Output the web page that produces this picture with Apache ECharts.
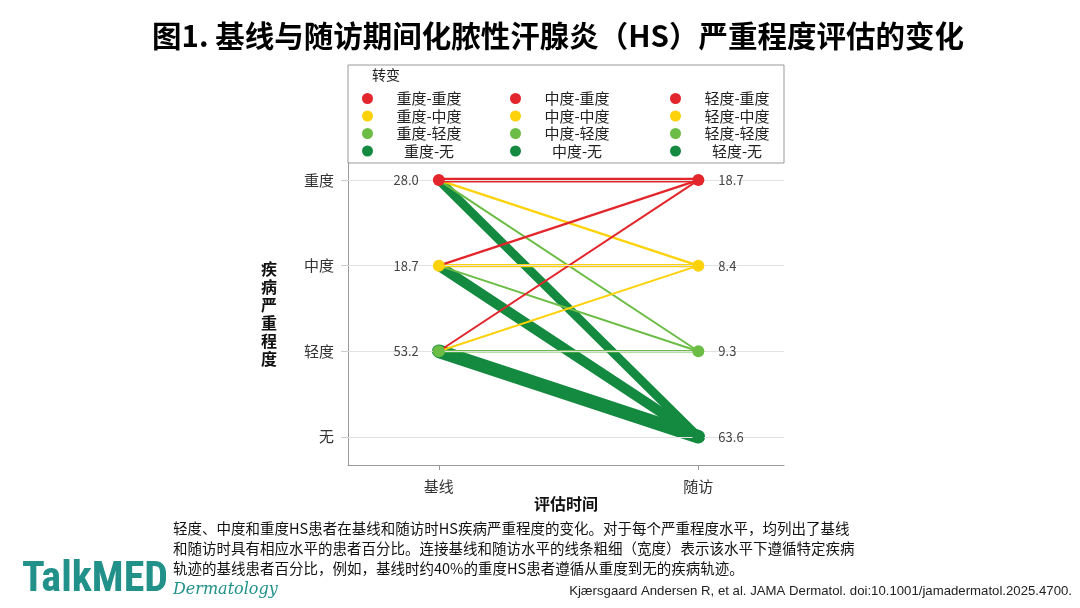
<!DOCTYPE html>
<html>
<head>
<meta charset="utf-8">
<script src="https://cdn.jsdelivr.net/npm/echarts@6/dist/echarts.min.js"></script>
<style>
  html, body { margin: 0; padding: 0; background: #fff; }
  #chart { width: 1080px; height: 608px; }
</style>
</head>
<body>
<div id="chart"></div>
<script>
// 严重程度等级 (y 值 0..3)
const levels = ['无', '轻度', '中度', '重度'];
const timePoints = ['基线', '随访'];

// 各水平患者百分比
const baselinePct = [null, 53.2, 18.7, 28.0];   // 无, 轻度, 中度, 重度
const followPct = [63.6, 9.3, 8.4, 18.7];

// 转变：从某水平到 重度 / 中度 / 轻度 / 无 的基线患者百分比（估计）
const toLevels = ['重度', '中度', '轻度', '无'];
const fromSevere = [22, 10, 8, 40];
const fromModerate = [10, 14, 8, 46];
const fromMild = [7, 8, 12, 62];

const toColors = { '重度': '#e3262b', '中度': '#fdd20a', '轻度': '#6cbd45', '无': '#138a3f' };
const font = 'Noto Sans CJK SC';

const flows = [
  { from: '重度', vals: fromSevere },
  { from: '中度', vals: fromModerate },
  { from: '轻度', vals: fromMild }
];

// 先画深绿粗线，再画其他颜色
const drawOrder = ['无', '轻度', '中度', '重度'];
const lineSeries = [];
drawOrder.forEach(function (to) {
  flows.forEach(function (f) {
    const pct = f.vals[toLevels.indexOf(to)];
    lineSeries.push({
      name: f.from + '-' + to,
      type: 'line',
      showSymbol: false,
      silent: true,
      color: toColors[to],
      lineStyle: { width: Math.max(2, pct * 0.22), color: toColors[to], cap: 'round' },
      data: [[0, levels.indexOf(f.from)], [1, levels.indexOf(to)]],
      z: 3
    });
  });
});

const dotColor = function (lvl) { return toColors[levels[lvl]]; };

const baseDots = [];
baselinePct.forEach(function (v, i) {
  if (v !== null) baseDots.push({ value: [0, i, v], itemStyle: { color: dotColor(i), opacity: 1 } });
});
const followDots = followPct.map(function (v, i) {
  return { value: [1, i, v], itemStyle: { color: dotColor(i), opacity: 1 } };
});

const dotLabel = function (pos) {
  return {
    show: true, position: pos, distance: 14,
    formatter: function (p) { return p.value[2].toFixed(1); },
    color: '#444', fontSize: 13, fontFamily: font
  };
};

const legendCol = function (from, left) {
  return {
    left: left, top: 86, orient: 'vertical',
    selectedMode: false, icon: 'circle',
    itemWidth: 11, itemHeight: 11, itemGap: 2.5,
    formatter: function (n) { return '{c|' + n + '}'; },
    textStyle: {
      fontSize: 15, fontFamily: font, color: '#222',
      rich: { c: { width: 102, align: 'center', fontSize: 15, fontFamily: font, color: '#222', lineHeight: 16 } }
    },
    data: toLevels.map(function (t) { return from + '-' + t; })
  };
};

const chart = echarts.init(document.getElementById('chart'));
chart.setOption({
  animation: false,
  backgroundColor: '#fff',
  title: {
    text: '图1. 基线与随访期间化脓性汗腺炎（HS）严重程度评估的变化',
    left: 147, top: 16,
    textStyle: { fontSize: 29.5, fontWeight: 'bold', fontFamily: font, color: '#000' }
  },
  legend: [legendCol('重度', 357), legendCol('中度', 505), legendCol('轻度', 665)],
  grid: { left: 348, right: 296, top: 163, bottom: 143 },
  xAxis: {
    type: 'value', min: -0.35, max: 1.33,
    splitLine: { show: false },
    axisLine: { show: true, onZero: false, lineStyle: { color: '#999' } },
    axisTick: { show: true, customValues: [0, 1], length: 5, lineStyle: { color: '#999' } },
    axisLabel: {
      customValues: [0, 1], margin: 14,
      formatter: function (v) { return timePoints[Math.round(v)]; },
      fontSize: 15, fontFamily: font, color: '#333'
    },
    name: '评估时间', nameLocation: 'middle', nameGap: 31,
    nameTextStyle: { fontSize: 16, fontWeight: 'bold', fontFamily: font, color: '#111' }
  },
  yAxis: {
    type: 'value', min: -0.33, max: 3.2,
    splitLine: { show: false },
    axisLine: { show: true, onZero: false, lineStyle: { color: '#999' } },
    axisTick: { show: true, customValues: [0, 1, 2, 3], length: 7, lineStyle: { color: '#ccc' } },
    axisLabel: {
      customValues: [0, 1, 2, 3], margin: 14,
      formatter: function (v) { return levels[Math.round(v)]; },
      fontSize: 15, fontFamily: font, color: '#333'
    },
    name: '疾\n病\n严\n重\n程\n度', nameLocation: 'middle', nameGap: 71, nameRotate: 0,
    nameTextStyle: { fontSize: 16, fontWeight: 'bold', fontFamily: font, color: '#111', lineHeight: 18 }
  },
  series: [{
    type: 'scatter', data: [], silent: true, z: 1,
    markLine: {
      silent: true, symbol: 'none', label: { show: false },
      lineStyle: { color: '#e2e2e2', width: 1, type: 'solid' },
      data: levels.map(function (l, i) { return { yAxis: i }; })
    }
  }].concat(lineSeries).concat([
    { type: 'scatter', symbolSize: 12, silent: true, z: 5, data: baseDots, label: dotLabel('left') },
    { type: 'scatter', symbolSize: 12, silent: true, z: 5, data: followDots, label: dotLabel('right') }
  ]),
  graphic: [
    { type: 'rect', shape: { x: 348, y: 65, width: 436, height: 98 },
      style: { fill: 'none', stroke: '#999', lineWidth: 1 }, z: 0 },
    { type: 'text', left: 372, top: 68,
      style: { text: '转变', fontSize: 14, fontFamily: font, fill: '#222' } },
    { type: 'text', left: 173, top: 518,
      style: {
        text: '轻度、中度和重度HS患者在基线和随访时HS疾病严重程度的变化。对于每个严重程度水平，均列出了基线\n和随访时具有相应水平的患者百分比。连接基线和随访水平的线条粗细（宽度）表示该水平下遵循特定疾病\n轨迹的基线患者百分比，例如，基线时约40%的重度HS患者遵循从重度到无的疾病轨迹。',
        fontSize: 14.5, lineHeight: 20, fontFamily: font, fill: '#111'
      } },
    { type: 'text', left: 22, top: 559,
      style: { text: 'TalkMED', fontSize: 42, fontWeight: 'bold', fontFamily: 'Liberation Sans Narrow, Roboto Condensed, sans-serif', fill: '#21918a' } },
    { type: 'text', left: 173, top: 582,
      style: { text: 'Dermatology', fontSize: 16, fontStyle: 'italic', fontFamily: 'DejaVu Serif', fill: '#21918a' } },
    { type: 'text', right: 8, top: 585,
      style: { text: 'Kjærsgaard Andersen R, et al. JAMA Dermatol. doi:10.1001/jamadermatol.2025.4700.', fontSize: 13.2, fontFamily: 'Liberation Sans Narrow, sans-serif', fill: '#222' } }
  ]
});
</script>
</body>
</html>
